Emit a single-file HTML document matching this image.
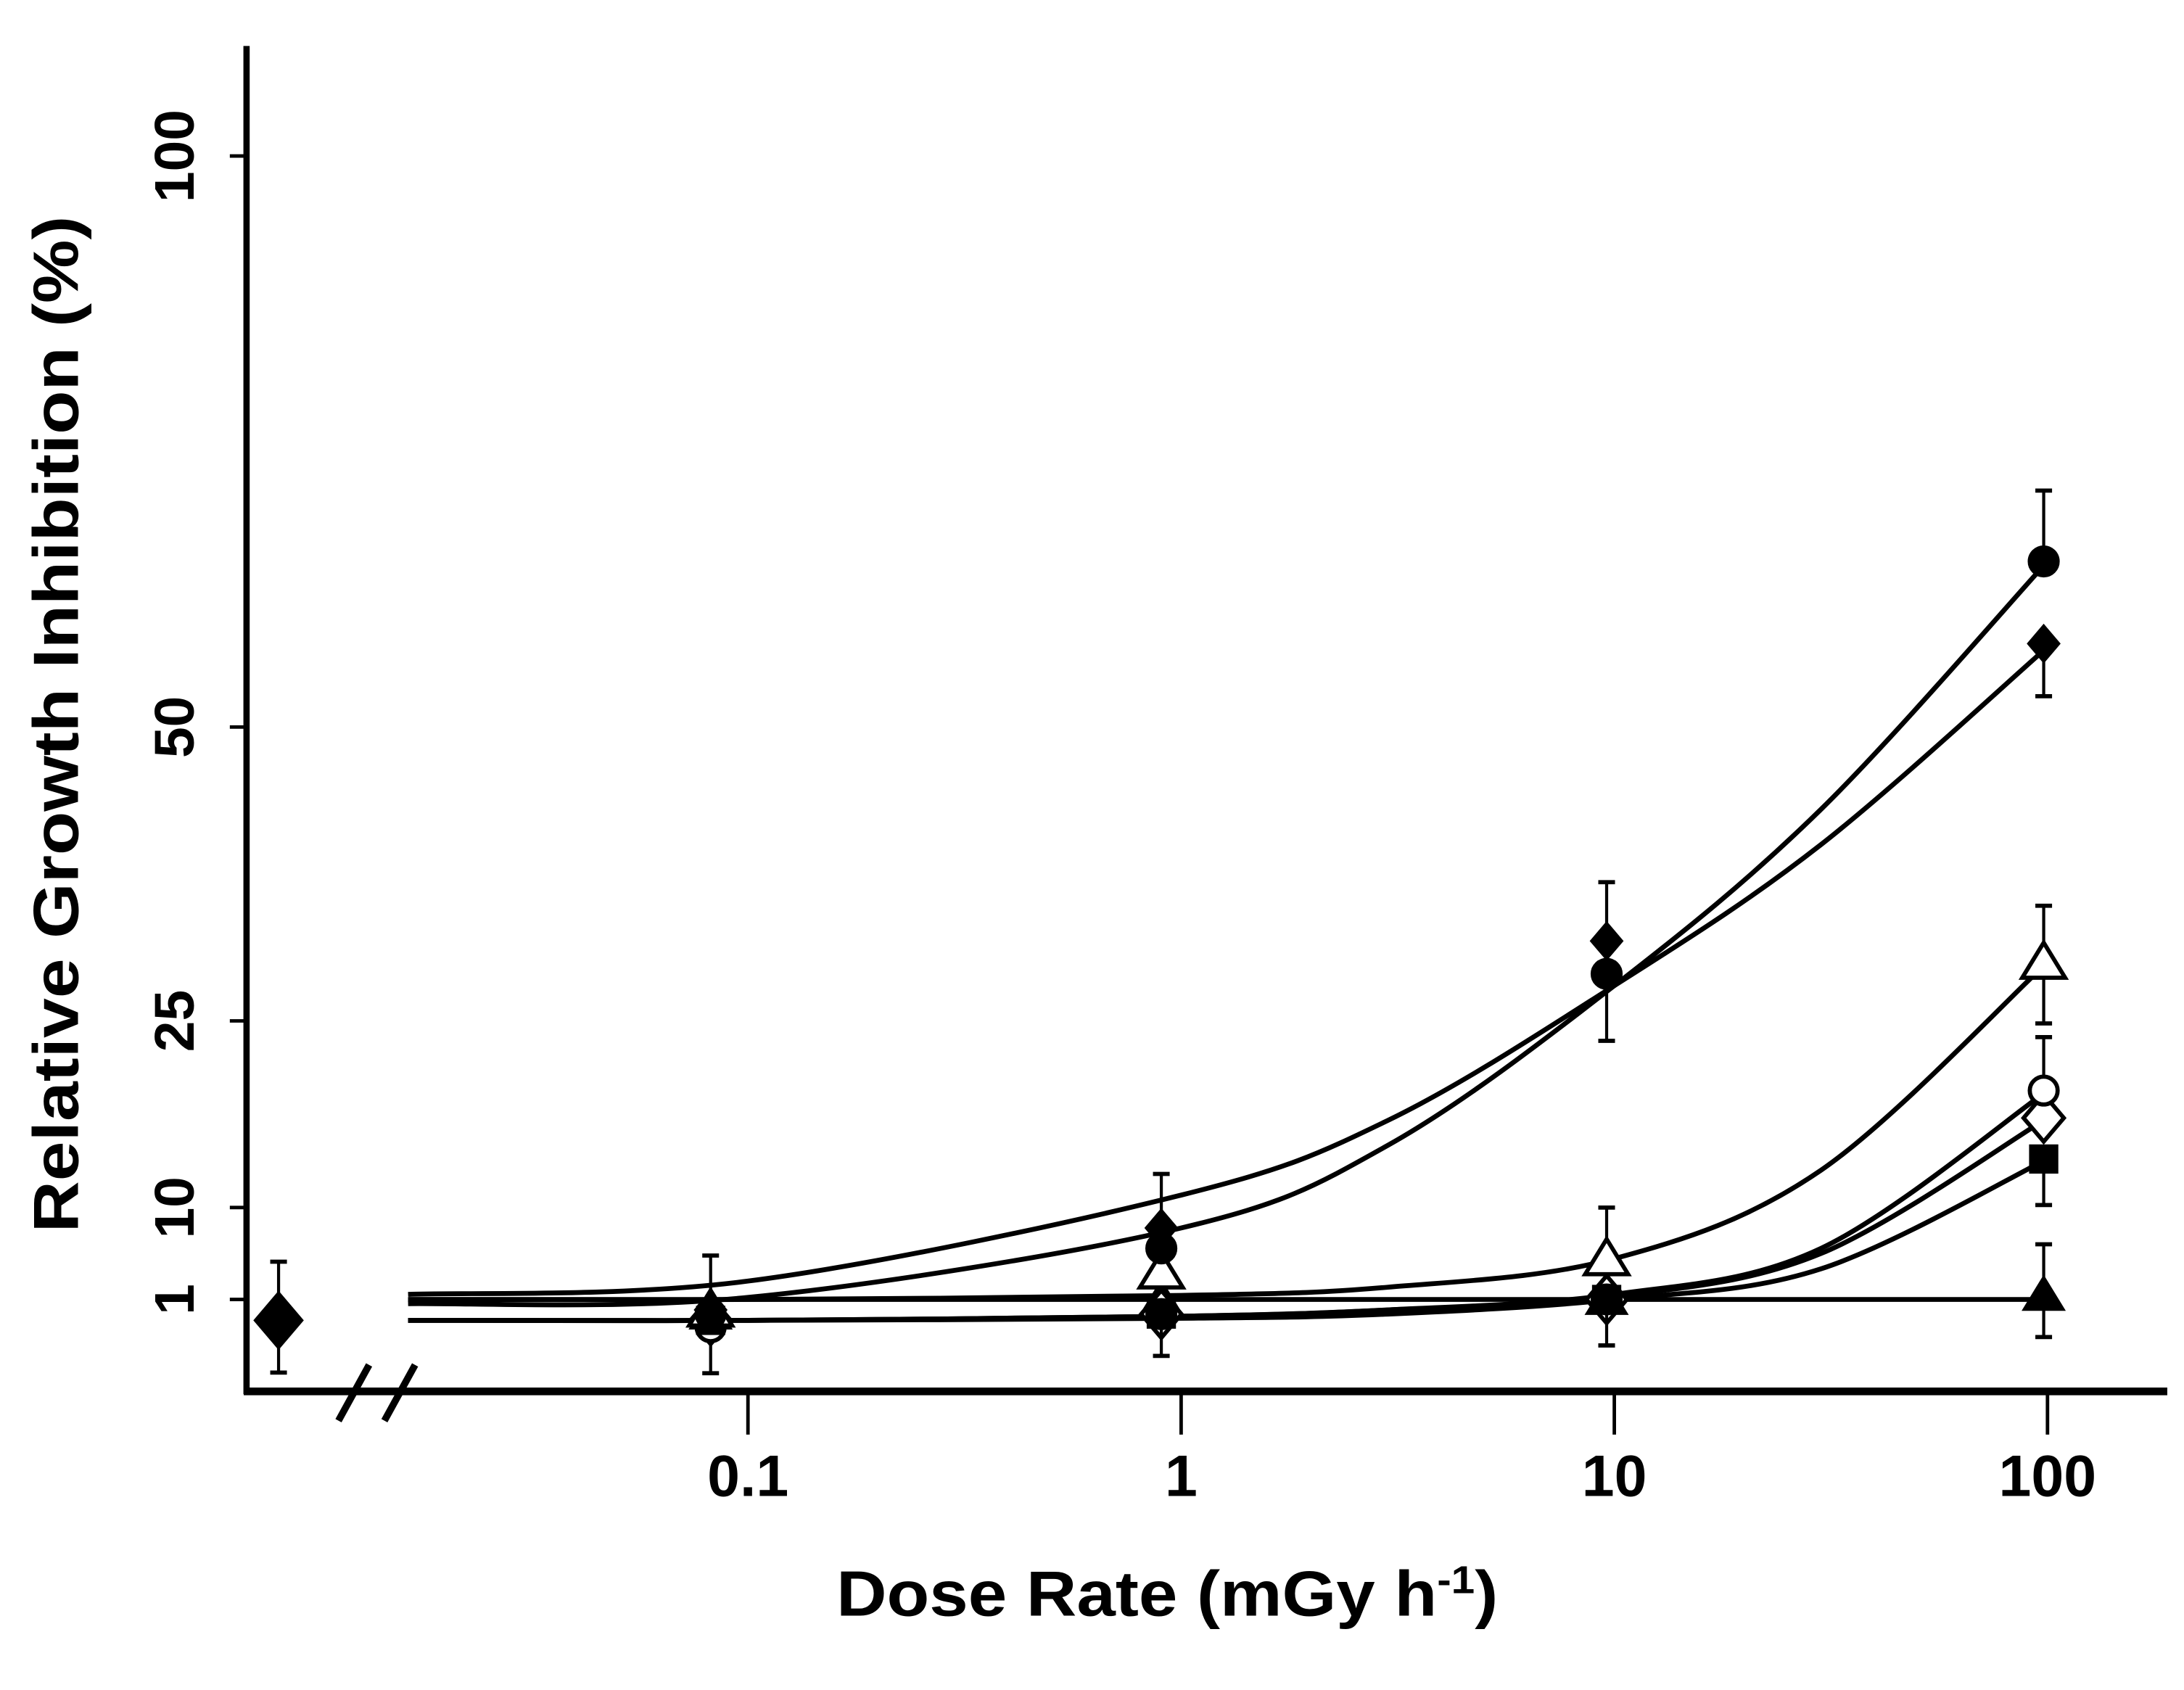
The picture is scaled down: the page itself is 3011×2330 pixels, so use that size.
<!DOCTYPE html>
<html><head><meta charset="utf-8"><style>
html,body{margin:0;padding:0;background:#fff;}
svg{display:block;}
text{font-family:"Liberation Sans",sans-serif;font-weight:bold;fill:#000;}
</style></head><body>
<svg id="chart" width="3011" height="2330" viewBox="0 0 1568 1213.4" preserveAspectRatio="none" xmlns="http://www.w3.org/2000/svg">
<g id="axes"></g>
<g id="curves"></g>
<g id="marks"></g>
</svg>
<script>
// ---- data ----
const xTicks = [0.1, 1, 10, 100];
const xTickLabels = ["0.1", "1", "10", "100"];
const yTicks = [1, 10, 25, 50, 100];
const yTickLabels = ["1", "10", "25", "50", "100"];
const doses = [0.082, 0.9, 9.6, 98];
const fitDoses = [0.016, 0.1, 1, 3, 10, 30, 100];

const controlValue = 0;
const controlErrUp = 4.7;
const controlErrDown = 2.5;

const fDiamondVals = [0.5, 8, 31.8, 57.3];
const fDiamondUp = [4.8, 4.7, 5, 0];
const fDiamondDown = [0, 0, 0, 4.6];
const fDiamondFit = [1.5, 2.8, 11, 17, 28, 40, 57];

const fCircleVals = [0.3, 6, 29, 64.5];
const fCircleUp = [0, 0, 0, 6.2];
const fCircleDown = [0, 0, 5.6, 0];
const fCircleFit = [0.8, 1.2, 8, 15, 28, 43, 64.5];

const oTriangleVals = [0.5, 3.7, 5, 30];
const oTriangleUp = [0, 0, 5, 4.8];
const oTriangleDown = [0, 0, 0, 5.2];
const oTriangleFit = [1, 1, 1.4, 2.2, 5, 13, 30];

const oCircleVals = [-0.33, 0.3, 1, 19.4];
const oCircleUp = [0, 0, 0, 4.3];
const oCircleDown = [2.2, 0, 2.2, 0];
const oCircleFit = [0, 0, 0.2, 0.5, 1.5, 6, 19.4];

const oDiamondVals = [0, 0.3, 1, 17.2];
const oDiamondFit = [0, 0, 0.2, 0.5, 1.3, 5.5, 17.2];

const fSquareVals = [0, 0.3, 1, 13.9];
const fSquareDown = [0, 2, 0, 3.7];
const fSquareFit = [0, 0, 0.1, 0.3, 1, 4, 13.9];

const fTriangleVals = [0.3, 1, 1, 1.4];
const fTriangleUp = [0, 0, 0, 5];
const fTriangleDown = [0, 0, 0, 2.2];
const fTriangleFit = [1, 1, 1, 1, 1, 1, 1];

// ---- scales ----
const NS = "http://www.w3.org/2000/svg";
function xs(v){ return 848 + 311 * Math.log10(v); }
const yMapV = [-5, 0, 1, 10, 25, 50, 100];
const yMapP = [1023, 948, 933, 867, 733, 522, 112];
function ys(v){
  for (let i = 0; i < yMapV.length - 1; i++) {
    if (v <= yMapV[i+1] || i === yMapV.length - 2) {
      const t = (v - yMapV[i]) / (yMapV[i+1] - yMapV[i]);
      return yMapP[i] + t * (yMapP[i+1] - yMapP[i]);
    }
  }
}
function mk(tag, attrs, parent){
  const e = document.createElementNS(NS, tag);
  for (const k in attrs) e.setAttribute(k, attrs[k]);
  parent.appendChild(e);
  return e;
}
const axes = document.getElementById('axes');
const curves = document.getElementById('curves');
const marks = document.getElementById('marks');

let yl = mk('line', {x1:177, y1:33, x2:177, y2:1001, stroke:'#000','stroke-width':4.5}, axes);


let xl = mk('line', {x1:175, y1:999, x2:1556, y2:999, stroke:'#000','stroke-width':5.5}, axes);


let br = mk('g', {}, axes);


mk('line', {x1:243, y1:1020, x2:265, y2:980, stroke:'#000','stroke-width':5}, br);
mk('line', {x1:276, y1:1020, x2:298, y2:980, stroke:'#000','stroke-width':5}, br);

xTicks.forEach((t, i) => {
  const x = xs(t);
  const tk = mk('line', {x1:x, y1:1000, x2:x, y2:1030, stroke:'#000','stroke-width':2.5}, axes);
  
  
  const lb = mk('text', {x:x, y:1074, 'font-size':42, 'text-anchor':'middle'}, axes);
  lb.textContent = xTickLabels[i];
  
  
});
yTicks.forEach((t, i) => {
  const y = ys(t);
  const tk = mk('line', {x1:165, y1:y, x2:177, y2:y, stroke:'#000','stroke-width':2.5}, axes);
  
  
  const lb = mk('text', {x:0, y:0, 'font-size':40, 'text-anchor':'middle', transform:'translate(139,'+y+') rotate(-90)'}, axes);
  lb.textContent = yTickLabels[i];
  
  
});
const xt = mk('text', {x:838, y:1160, 'font-size':46, 'text-anchor':'middle', textLength:475, lengthAdjust:'spacingAndGlyphs'}, axes);
xt.innerHTML = 'Dose Rate (mGy h<tspan dy="-16" font-size="28">-1</tspan><tspan dy="16">)</tspan>';


const yt = mk('text', {x:0, y:0, 'font-size':46, 'text-anchor':'middle', textLength:730, lengthAdjust:'spacingAndGlyphs', transform:'translate(56,520) rotate(-90)'}, axes);
yt.textContent = 'Relative Growth Inhibition  (%)';



function curvePath(fit){
  const p = fitDoses.map((d, i) => [xs(d), ys(fit[i])]);
  p[0][0] = 293;
  let d = 'M' + p[0][0] + ',' + p[0][1];
  for (let i = 0; i < p.length - 1; i++) {
    const p0 = p[Math.max(0, i-1)], p1 = p[i], p2 = p[i+1], p3 = p[Math.min(p.length-1, i+2)];
    const c1 = [p1[0] + (p2[0]-p0[0])/6, p1[1] + (p2[1]-p0[1])/6];
    const c2 = [p2[0] - (p3[0]-p1[0])/6, p2[1] - (p3[1]-p1[1])/6];
    d += ' C' + c1 + ' ' + c2 + ' ' + p2;
  }
  return d;
}
[[fDiamondFit,'fit-curve-filled-diamond'],[fCircleFit,'fit-curve-filled-circle'],[oTriangleFit,'fit-curve-open-triangle'],
 [oCircleFit,'fit-curve-open-circle'],[oDiamondFit,'fit-curve-open-diamond'],[fSquareFit,'fit-curve-filled-square'],
 [fTriangleFit,'fit-curve-filled-triangle']].forEach(([f, n]) => {
  const c = mk('path', {d:curvePath(f), fill:'none', stroke:'#000', 'stroke-width':3.5}, curves);
  
  
});

function errBar(x, v, up, down, g){
  const y1 = ys(v + up), y2 = ys(v - down);
  mk('line', {x1:x, y1:y1, x2:x, y2:y2, stroke:'#000','stroke-width':2.2}, g);
  if (up > 0) mk('line', {x1:x-6, y1:y1, x2:x+6, y2:y1, stroke:'#000','stroke-width':3}, g);
  if (down > 0) mk('line', {x1:x-6, y1:y2, x2:x+6, y2:y2, stroke:'#000','stroke-width':3}, g);
}
function marker(shape, filled, x, y, s, g){
  const fill = filled ? '#000' : '#fff';
  const a = {fill:fill, stroke:'#000', 'stroke-width':3};
  if (shape === 'circle') { a.cx = x; a.cy = y; a.r = s; return mk('circle', a, g); }
  if (shape === 'square') { a.x = x-s; a.y = y-s; a.width = 2*s; a.height = 2*s; return mk('rect', a, g); }
  if (shape === 'diamond') { a.points = [x,y-s, x+s*0.85,y, x,y+s, x-s*0.85,y].join(','); return mk('polygon', a, g); }
  if (shape === 'triangle') { a.points = [x,y-s, x+s*1.1,y+s*0.8, x-s*1.1,y+s*0.8].join(','); return mk('polygon', a, g); }
}
function series(name, shape, filled, vals, up, down, size){
  const g = mk('g', {}, marks);
  
  
  vals.forEach((v, i) => {
    const x = xs(doses[i]);
    if ((up && up[i]) || (down && down[i])) errBar(x, v, up ? up[i] : 0, down ? down[i] : 0, g);
    const m = marker(shape, filled, x, ys(v), size, g);
    
    
  });
}
const cg = mk('g', {}, marks);


errBar(200, controlValue, controlErrUp, controlErrDown, cg);
const cm = marker('diamond', true, 200, ys(controlValue), 19, cg);



series('filled-triangle-series', 'triangle', true, fTriangleVals, fTriangleUp, fTriangleDown, 12);
series('open-diamond-series', 'diamond', false, oDiamondVals, null, null, 17);
series('open-circle-series', 'circle', false, oCircleVals, oCircleUp, oCircleDown, 10);
series('filled-square-series', 'square', true, fSquareVals, null, fSquareDown, 9);
series('open-triangle-series', 'triangle', false, oTriangleVals, oTriangleUp, oTriangleDown, 14);
series('filled-circle-series', 'circle', true, fCircleVals, fCircleUp, fCircleDown, 10);
series('filled-diamond-series', 'diamond', true, fDiamondVals, fDiamondUp, fDiamondDown, 12);
</script>
</body></html>
